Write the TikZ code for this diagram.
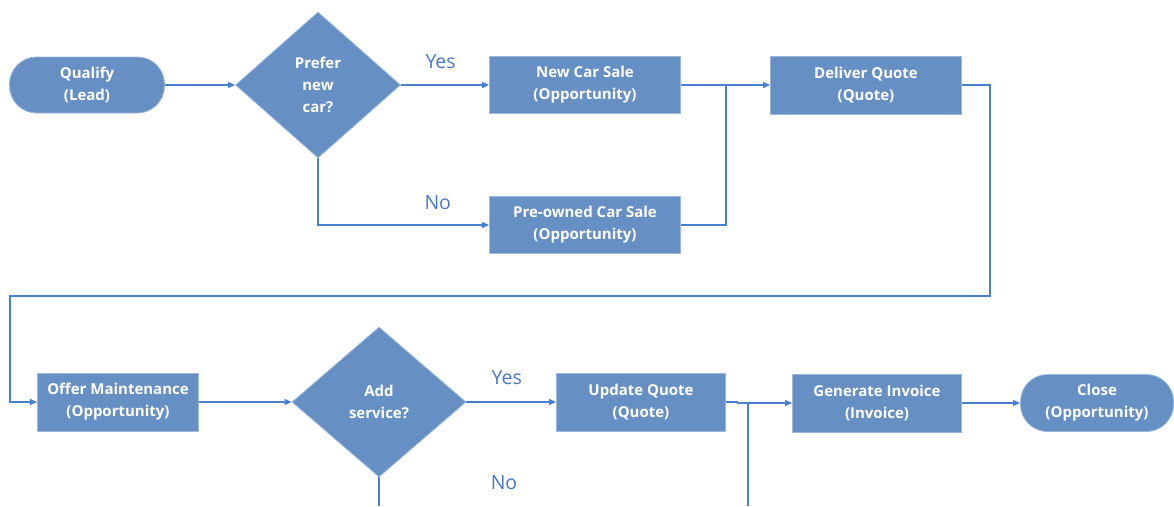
\documentclass[tikz,border=0pt]{standalone}
\usepackage{fontspec}
\setmainfont{Open Sans}
\usepackage{tikz}
\usetikzlibrary{arrows.meta,positioning,shapes.geometric}
\usepackage{xcolor}
\definecolor{boxfill}{HTML}{6690C4}
\definecolor{boxedge}{HTML}{9DB8DD}
\definecolor{flowline}{HTML}{4A80D0}
\definecolor{labelblue}{HTML}{4A78C8}

\begin{document}
\begin{tikzpicture}[x=1pt,y=-1pt,
  proc/.style={rectangle,fill=boxfill,draw=boxedge,line width=0.8pt,text=white,
    font=\fontsize{15}{22}\selectfont\bfseries,align=center,inner sep=0pt},
  term/.style={proc,rounded corners=27pt},
  decide/.style={diamond,fill=boxfill,draw=boxedge,line width=0.8pt,text=white,
    font=\fontsize{15}{22}\selectfont\bfseries,align=center,inner sep=0pt},
  flow/.style={draw=flowline,line width=1.1pt,-{Triangle[length=7pt,width=6pt]}},
  link/.style={draw=flowline,line width=1.1pt},
  lbl/.style={text=labelblue,font=\fontsize{19.5}{22}\selectfont,inner sep=0pt}]
\useasboundingbox (0,0) rectangle (1174,506);
% top row
\node[term,minimum width=155pt,minimum height=56pt] (qualify) at (87,85) {Qualify\\(Lead)};
\node[decide,minimum width=165pt,minimum height=146pt] (prefer) at (318,85) {Prefer\\new\\car?};
\node[proc,minimum width=191pt,minimum height=57pt] (newcar) at (585,85) {New Car Sale\\(Opportunity)};
\node[proc,minimum width=191pt,minimum height=57pt] (preowned) at (585,225) {Pre-owned Car Sale\\(Opportunity)};
\node[proc,minimum width=191pt,minimum height=58pt] (deliver) at (866,85) {Deliver Quote\\(Quote)};
% bottom row
\node[proc,minimum width=161pt,minimum height=58pt] (offer) at (118,402) {Offer Maintenance\\(Opportunity)};
\node[decide,minimum width=174pt,minimum height=150pt] (addsvc) at (379,402) {Add\\service?};
\node[proc,minimum width=169pt,minimum height=58pt] (update) at (641,402) {Update Quote\\(Quote)};
\node[proc,minimum width=169pt,minimum height=58pt] (invoice) at (877,403) {Generate Invoice\\(Invoice)};
\node[term,minimum width=153pt,minimum height=57pt] (close) at (1097,403) {Close\\(Opportunity)};
% helper points
\coordinate (join) at (726,85);
\coordinate (wrapR) at (990,296);
\coordinate (wrapL) at (10,296);
\coordinate (noend) at (379,506);
\coordinate (merge) at (748,403);
\coordinate (mergeend) at (748,506);
% connectors
\draw[flow] (qualify) -- (prefer);
\draw[flow] (prefer.east) -- (newcar.west) node[lbl,pos=0.45,yshift=23pt] {Yes};
\draw[flow] (prefer.south) |- (preowned.west) node[lbl,pos=0.85,yshift=22pt] {No};
\draw[flow] (newcar.east) -- (deliver.west);
\draw[link] (preowned.east) -| (join);
\draw[flow] (deliver.east) -| (wrapR) -- (wrapL) |- (offer.west);
\draw[flow] (offer) -- (addsvc);
\draw[flow] (addsvc.east) -- (update.west) node[lbl,pos=0.45,yshift=24pt] {Yes};
\draw[link] (addsvc.south) -- (noend);
\node[lbl] (nolbl) at (504,483) {No};
\draw[flow] (update.east) -- ++(12,0) |- (invoice.west);
\draw[link] (mergeend) -- (merge);
\draw[flow] (invoice) -- (close);
\end{tikzpicture}
\end{document}
